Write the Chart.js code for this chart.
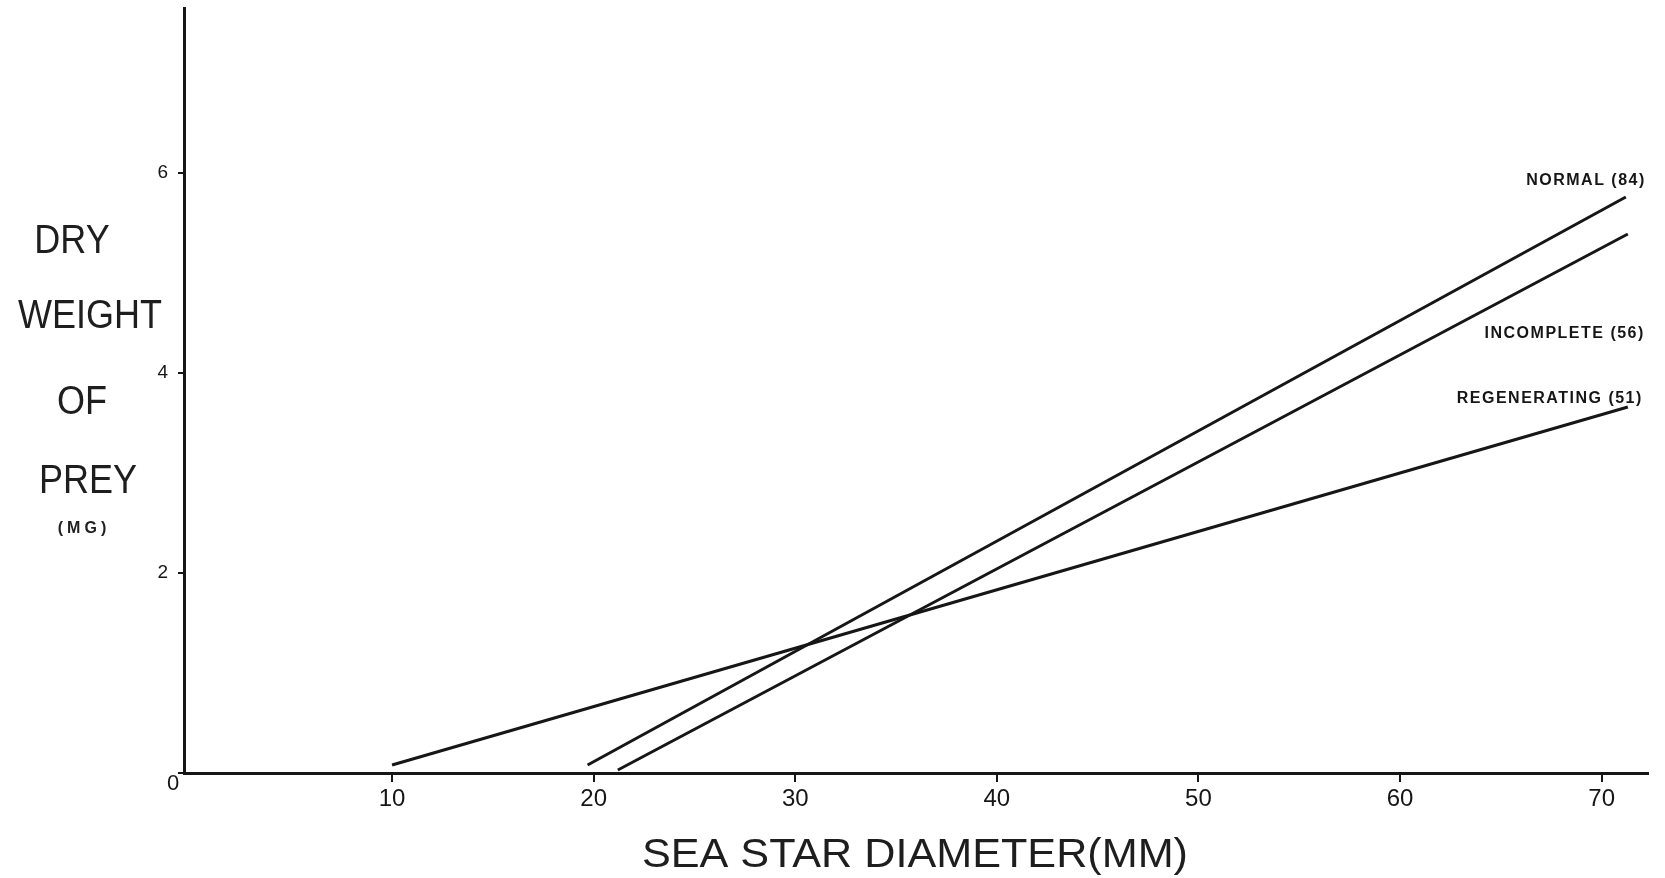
<!DOCTYPE html>
<html>
<head>
<meta charset="utf-8">
<title>Sea star diameter vs dry weight of prey</title>
<script src="https://cdn.jsdelivr.net/npm/chart.js@4/dist/chart.umd.min.js"></script>
<style>
  html, body { margin: 0; padding: 0; background: #ffffff; }
  #wrap { width: 1665px; height: 878px; }
</style>
</head>
<body>
<div id="wrap"><canvas id="chart" width="1665" height="878"></canvas></div>
<script>
// Regression lines: sea star diameter (mm) against dry weight of prey (mg)
const seriesNames = ['NORMAL (84)', 'INCOMPLETE (56)', 'REGENERATING (51)'];
const normalX = [19.7, 71.2];
const normalY = [0.08, 5.76];
const incompleteX = [21.2, 71.3];
const incompleteY = [0.03, 5.39];
const regeneratingX = [10.0, 71.3];
const regeneratingY = [0.08, 3.66];

const xTicks = [10, 20, 30, 40, 50, 60, 70];
const yTicks = [0, 2, 4, 6];

const yTitleLines = ['DRY', 'WEIGHT', 'OF', 'PREY'];
const yUnit = '(MG)';
const xTitle = 'SEA STAR DIAMETER(MM)';

const ink = '#161616';
const sans = '"Liberation Sans", Arial, sans-serif';

function toPoints(xs, ys) {
  return xs.map((x, i) => ({ x: x, y: ys[i] }));
}

const seriesData = [
  toPoints(normalX, normalY),
  toPoints(incompleteX, incompleteY),
  toPoints(regeneratingX, regeneratingY)
];

// Line-end labels and axis titles, drawn on the canvas after the datasets
const annotate = {
  id: 'annotate',
  afterDraw(chart) {
    const ctx = chart.ctx;
    const xs = chart.scales.x, ys = chart.scales.y;
    ctx.save();
    ctx.fillStyle = ink;

    // series labels, right-aligned near each line's end
    ctx.font = 'bold 16px ' + sans;
    ctx.letterSpacing = '1.5px';
    ctx.textAlign = 'right';
    ctx.textBaseline = 'middle';
    const labelDx = [20, 17, 15];
    const labelDy = [-16, 100, -8];
    const ends = [
      [normalX[1], normalY[1]],
      [incompleteX[1], incompleteY[1]],
      [regeneratingX[1], regeneratingY[1]]
    ];
    seriesNames.forEach((name, i) => {
      const px = xs.getPixelForValue(ends[i][0]) + labelDx[i];
      const py = ys.getPixelForValue(ends[i][1]) + labelDy[i];
      ctx.fillText(name, px, py);
    });

    // y-axis zero label, set off below the corner
    ctx.letterSpacing = '0px';
    ctx.font = '22px ' + sans;
    ctx.textAlign = 'center';
    ctx.fillText('0', xs.left - 11, ys.getPixelForValue(0) + 11);

    // stacked y-axis title
    ctx.fillStyle = '#1e1e1e';
    ctx.font = '40px ' + sans;
    ctx.textBaseline = 'alphabetic';
    const titleCx = [72, 90, 82, 88];
    const titleBase = [253, 328, 414, 493];
    yTitleLines.forEach((t, i) => {
      ctx.save();
      ctx.translate(titleCx[i], titleBase[i]);
      ctx.scale(0.9, 1);
      ctx.fillText(t, 0, 0);
      ctx.restore();
    });
    ctx.font = 'bold 16px ' + sans;
    ctx.letterSpacing = '4px';
    ctx.textBaseline = 'middle';
    ctx.fillText(yUnit, 84, 529);

    // x-axis title
    ctx.letterSpacing = '0px';
    ctx.font = '40px ' + sans;
    ctx.textBaseline = 'alphabetic';
    const w = ctx.measureText(xTitle).width;
    ctx.translate(915, 867);
    ctx.scale(546 / w, 1);
    ctx.fillText(xTitle, 0, 0);
    ctx.restore();
  }
};

new Chart(document.getElementById('chart'), {
  type: 'scatter',
  data: {
    datasets: seriesData.map((pts, i) => ({
      label: seriesNames[i],
      data: pts,
      showLine: true,
      borderColor: ink,
      borderWidth: 3,
      pointRadius: 0,
      fill: false
    }))
  },
  options: {
    responsive: false,
    animation: false,
    layout: { padding: { left: 0, top: 8, right: 17, bottom: 0 } },
    plugins: {
      legend: { display: false },
      tooltip: { enabled: false }
    },
    scales: {
      x: {
        type: 'linear',
        min: -0.32,
        max: 72.3,
        afterBuildTicks: (s) => { s.ticks = xTicks.map(v => ({ value: v })); },
        afterFit: (s) => { s.height = 105; s.paddingLeft = 0; s.paddingRight = 0; },
        border: { display: true, color: ink, width: 3 },
        grid: { display: true, drawOnChartArea: false, drawTicks: true, tickLength: 9, color: ink, lineWidth: 2 },
        ticks: {
          color: ink,
          padding: 3,
          maxRotation: 0,
          font: { family: sans, size: 24 },
          callback: (v) => String(v)
        }
      },
      y: {
        type: 'linear',
        min: 0,
        max: 7.65,
        afterBuildTicks: (s) => { s.ticks = yTicks.map(v => ({ value: v })); },
        afterFit: (s) => { s.width = 184; s.paddingTop = 0; s.paddingBottom = 0; },
        border: { display: true, color: ink, width: 3 },
        grid: { display: true, drawOnChartArea: false, drawTicks: true, tickLength: 6, color: ink, lineWidth: 2 },
        ticks: {
          color: ink,
          padding: 10,
          font: { family: sans, size: 19 },
          callback: (v) => (v === 0 ? '' : String(v))
        }
      }
    }
  },
  plugins: [annotate]
});
</script>
</body>
</html>
